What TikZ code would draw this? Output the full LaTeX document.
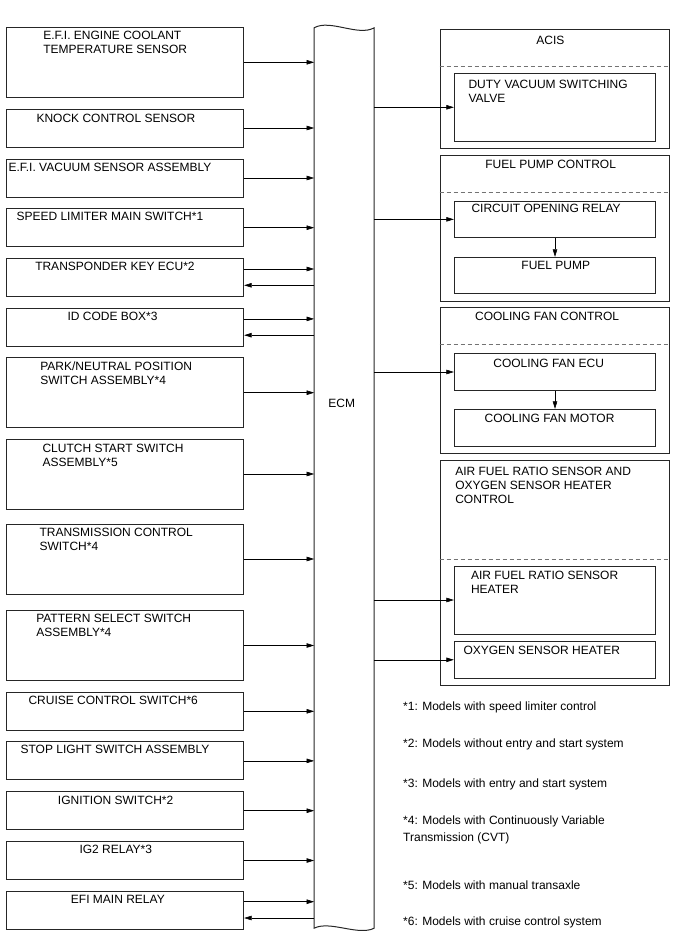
\documentclass[tikz,border=0pt]{standalone}
\usepackage{fontspec}
\setmainfont{Liberation Sans}
\usetikzlibrary{arrows.meta, positioning}
\tikzset{
  % --- khoi tin hieu vao / ra ---------------------------------
  inbox/.style={draw=black!85, line width=0.9pt, fill=white, inner sep=0pt,
    minimum width=237.7},
  sbox/.style={inbox, minimum height=38},
  tbox/.style={inbox, minimum height=70},
  grpbox/.style={draw=black!85, line width=0.9pt, inner sep=0pt,
    minimum width=229.3},
  subbox/.style={draw=black!85, line width=0.9pt, inner sep=0pt,
    minimum width=201.4},
  % --- chu ----------------------------------------------------
  btxt/.style={inner sep=0pt, anchor=north west, align=left,
    font=\fontsize{12}{14}\selectfont},
  ctxt/.style={btxt, anchor=north, align=center},
  % --- duong ----------------------------------------------------
  sep/.style={draw=black!55, line width=0.7pt, dash pattern=on 4pt off 3pt},
  ecmline/.style={draw=black!85, line width=1pt},
  arr/.style={-{Triangle[length=7.5pt, width=4.5pt]}, line width=0.6pt}
}
\begin{document}
\begin{tikzpicture}[x=1pt, y=-1pt]
  \useasboundingbox (0,0) rectangle (688,949);

  % ---------- ECM ----------
  \node[minimum width=59.7, minimum height=900, inner sep=0pt] (ecm) at (344.15,478) {};
  \draw[ecmline] (ecm.north west) .. controls +(16,-9) and +(-16,9) .. (ecm.north east)
    -- (ecm.south east) .. controls +(-16,8) and +(16,-8) .. (ecm.south west) -- cycle;
  \node[btxt, anchor=north] (ecmtxt) at (341.7,399.3) {ECM};

  % ---------- Tin hieu vao ----------
  \node[tbox] (ect) at (124.85,62.3) {};
  \node[btxt, below right=4.3pt and 37.5pt of ect.north west] {E.F.I. ENGINE COOLANT\\TEMPERATURE SENSOR};
  \node[sbox] (knk) at (124.85,128) {};
  \node[btxt, below right=5pt and 30.8pt of knk.north west] {KNOCK CONTROL SENSOR};
  \node[sbox] (vac) at (124.85,178) {};
  \node[btxt, below right=4.3pt and 2.8pt of vac.north west] {E.F.I. VACUUM SENSOR ASSEMBLY};
  \node[sbox] (spd) at (124.85,227.7) {};
  \node[btxt, below right=4pt and 10.8pt of spd.north west] {SPEED LIMITER MAIN SWITCH*1};
  \node[sbox] (tpk) at (124.85,277.3) {};
  \node[btxt, below right=4pt and 29.5pt of tpk.north west] {TRANSPONDER KEY ECU*2};
  \node[sbox] (idb) at (124.85,327.2) {};
  \node[btxt, below right=4pt and 61.8pt of idb.north west] {ID CODE BOX*3};
  \node[tbox] (pnp) at (124.85,392.7) {};
  \node[btxt, below right=4.3pt and 34.5pt of pnp.north west] {PARK/NEUTRAL POSITION\\SWITCH ASSEMBLY*4};
  \node[tbox] (clu) at (124.85,474) {};
  \node[btxt, below right=5.5pt and 36.8pt of clu.north west] {CLUTCH START SWITCH\\ASSEMBLY*5};
  \node[tbox] (tcs) at (124.85,559) {};
  \node[btxt, below right=4pt and 33.8pt of tcs.north west] {TRANSMISSION CONTROL\\SWITCH*4};
  \node[tbox] (pss) at (124.85,645.5) {};
  \node[btxt, below right=3.5pt and 30.5pt of pss.north west] {PATTERN SELECT SWITCH\\ASSEMBLY*4};
  \node[sbox] (ccs) at (124.85,711.3) {};
  \node[btxt, below right=4.4pt and 22.8pt of ccs.north west] {CRUISE CONTROL SWITCH*6};
  \node[sbox] (sls) at (124.85,760.85) {};
  \node[btxt, below right=4pt and 14.8pt of sls.north west] {STOP LIGHT SWITCH ASSEMBLY};
  \node[sbox] (ign) at (124.85,810.7) {};
  \node[btxt, below right=4.3pt and 52.2pt of ign.north west] {IGNITION SWITCH*2};
  \node[sbox] (ig2) at (124.85,860.5) {};
  \node[btxt, below right=4.3pt and 73.8pt of ig2.north west] {IG2 RELAY*3};
  \node[sbox] (efi) at (124.85,910) {};
  \node[btxt, below right=4pt and 65.2pt of efi.north west] {EFI MAIN RELAY};

  \foreach \b in {ect,knk,vac,spd,pnp,clu,tcs,pss,ccs,sls,ign,ig2}
    \draw[arr] (\b.east) -- (\b -| ecm.west);
  \foreach \b in {tpk,idb,efi} {
    \draw[arr, transform canvas={yshift=8.3pt}] (\b.east) -- (\b -| ecm.west);
    \draw[arr, transform canvas={yshift=-8pt}] (\b -| ecm.west) -- (\b.east);
  }

  % ---------- ACIS ----------
  \node[grpbox, minimum height=119] (acis) at (554.65,88.5) {};
  \node[ctxt, below=7pt of acis.north, xshift=-4.3pt] {ACIS};
  \draw[sep] ([yshift=-37.7pt]acis.north west) -- ([yshift=-37.7pt]acis.north east);
  \node[subbox, minimum height=68] (dvs) at (555,107.3) {};
  \node[btxt, below right=6.7pt and 14.5pt of dvs.north west] {DUTY VACUUM SWITCHING\\VALVE};

  % ---------- Bom nhien lieu ----------
  \node[grpbox, minimum height=146] (fpc) at (554.65,228) {};
  \node[ctxt, below=5.7pt of fpc.north, xshift=-4pt] {FUEL PUMP CONTROL};
  \draw[sep] ([yshift=-38pt]fpc.north west) -- ([yshift=-38pt]fpc.north east);
  \node[subbox, minimum height=36.7] (cor) at (555,219.35) {};
  \node[btxt, below right=3.3pt and 17.5pt of cor.north west] {CIRCUIT OPENING RELAY};
  \node[subbox, minimum height=36] (fp) at (555,275.3) {};
  \node[ctxt, below=4.4pt of fp.north, xshift=0.8pt] {FUEL PUMP};
  \draw[arr] (cor.south) -- (fp.north);

  % ---------- Quat lam mat ----------
  \node[grpbox, minimum height=146] (cfc) at (554.65,380.7) {};
  \node[ctxt, below=4.6pt of cfc.north, xshift=-7.5pt] {COOLING FAN CONTROL};
  \draw[sep] ([yshift=-37.3pt]cfc.north west) -- ([yshift=-37.3pt]cfc.north east);
  \node[subbox, minimum height=36.6] (cfe) at (555,372) {};
  \node[ctxt, below=5.3pt of cfe.north, xshift=-6.3pt] {COOLING FAN ECU};
  \node[subbox, minimum height=36.7] (cfm) at (555,427.65) {};
  \node[ctxt, below=5pt of cfm.north, xshift=-5.5pt] {COOLING FAN MOTOR};
  \draw[arr] (cfe.south) -- (cfm.north);

  % ---------- Cam bien A/F va O2 ----------
  \node[grpbox, minimum height=225.4] (afc) at (554.65,573) {};
  \node[btxt, below right=7pt and 15.5pt of afc.north west]
    {AIR FUEL RATIO SENSOR AND\\OXYGEN SENSOR HEATER\\CONTROL};
  \draw[sep] ([yshift=-99pt]afc.north west) -- ([yshift=-99pt]afc.north east);
  \node[subbox, minimum height=68] (afh) at (555,600) {};
  \node[btxt, below right=5.7pt and 17pt of afh.north west] {AIR FUEL RATIO SENSOR\\HEATER};
  \node[subbox, minimum height=37] (o2h) at (555,659.8) {};
  \node[btxt, below right=5.4pt and 9.5pt of o2h.north west] {OXYGEN SENSOR HEATER};

  \foreach \b in {dvs,cor,cfe,afh,o2h}
    \draw[arr] (\b -| ecm.east) -- (\b.west);

  % ---------- Ghi chu ----------
  \node[btxt] (n1) at (403,701.7) {*1: Models with speed limiter control};
  \node[btxt] (n2) at (403,738.7) {*2: Models without entry and start system};
  \node[btxt] (n3) at (403,778.7) {*3: Models with entry and start system};
  \node[btxt] (n4) at (403,815.7) {*4: Models with Continuously Variable\\[3pt]Transmission (CVT)};
  \node[btxt] (n5) at (403,880.7) {*5: Models with manual transaxle};
  \node[btxt] (n6) at (403,916.7) {*6: Models with cruise control system};

\end{tikzpicture}
\end{document}
